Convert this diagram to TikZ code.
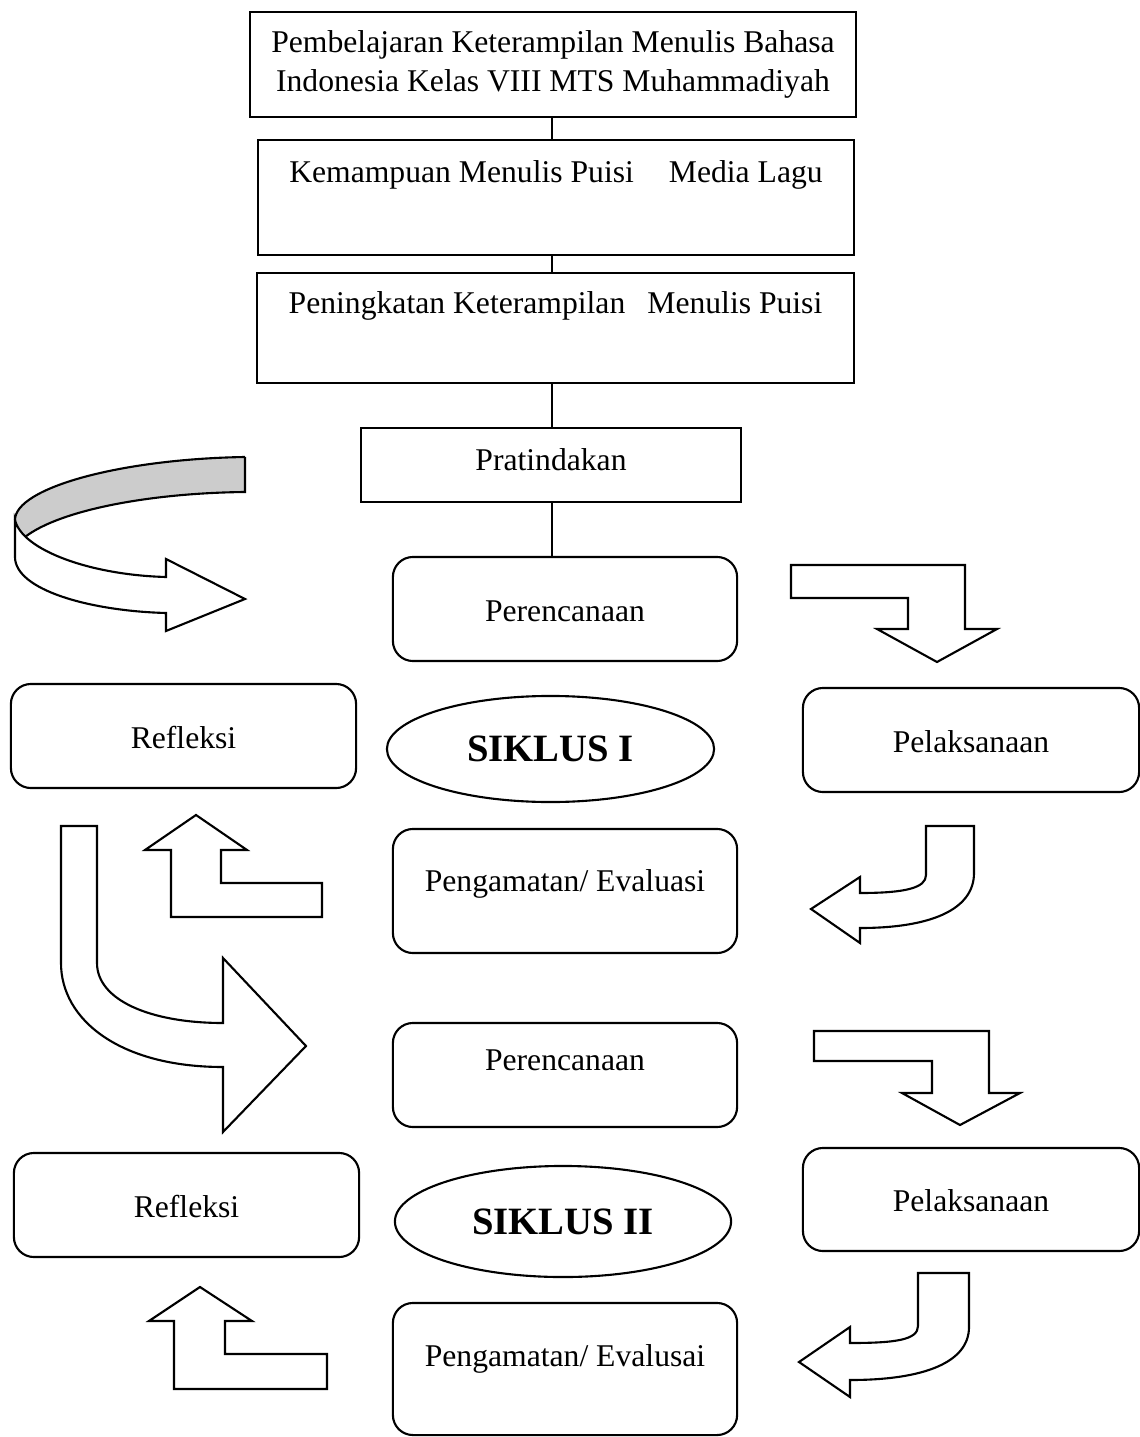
\documentclass[tikz,border=0pt]{standalone}
\usepackage{fontspec}
\setmainfont{Liberation Serif}
\usetikzlibrary{shapes.geometric}

\tikzset{
  plainbox/.style={draw, line width=0.6pt, inner sep=0pt, align=center,
    font=\fontsize{9}{11.1}\selectfont},
  onebox/.style={plainbox, text height=7pt},
  roundbox/.style={onebox, rounded corners=0.2cm},
  siklus/.style={draw, ellipse, line width=0.6pt, inner sep=0pt,
    font=\fontsize{11}{13}\selectfont\bfseries},
  blockarrow/.style={draw, fill=white, line width=0.6pt, line join=miter},
}

\begin{document}
\begin{tikzpicture}[x=0.01cm, y=-0.01cm]
    \useasboundingbox (0,0) rectangle (1139,1437);
    \node[plainbox, minimum width=6.06cm, minimum height=1.05cm] at (553,64.5) (judul) {Pembelajaran Keterampilan Menulis Bahasa\\Indonesia Kelas VIII MTS Muhammadiyah};
    \node[onebox, minimum width=5.96cm, minimum height=1.15cm, text depth=15.6pt] at (556,197.5) (kemampuan) {Kemampuan Menulis Puisi\hspace{0.35cm}Media Lagu};
    \node[onebox, minimum width=5.97cm, minimum height=1.10cm, text depth=15.2pt] at (555.5,328) (peningkatan) {Peningkatan Keterampilan\hspace{0.22cm}Menulis Puisi};
    \node[onebox, minimum width=3.80cm, minimum height=0.74cm, text depth=3.8pt] at (551,465) (pratindakan) {Pratindakan};
    % siklus I
    \node[roundbox, minimum width=3.44cm, minimum height=1.04cm] at (565,609) (rencana1) {Perencanaan};
    \node[roundbox, minimum width=3.45cm, minimum height=1.04cm] at (183.5,736) (refleksi1) {Refleksi};
    \node[siklus, minimum width=3.27cm, minimum height=1.06cm] at (550.5,749) (siklus1) {SIKLUS I};
    \node[roundbox, minimum width=3.36cm, minimum height=1.04cm] at (971,740) (laksana1) {Pelaksanaan};
    \node[roundbox, minimum width=3.44cm, minimum height=1.24cm, text depth=6.7pt] at (565,891) (amat1) {Pengamatan/ Evaluasi};
    % siklus II
    \node[roundbox, minimum width=3.44cm, minimum height=1.04cm, text depth=9.6pt] at (565,1075) (rencana2) {Perencanaan};
    \node[roundbox, minimum width=3.45cm, minimum height=1.04cm] at (186.5,1205) (refleksi2) {Refleksi};
    \node[siklus, minimum width=3.36cm, minimum height=1.11cm] at (563,1221.5) (siklus2) {SIKLUS II};
    \node[roundbox, minimum width=3.36cm, minimum height=1.03cm] at (971,1199.5) (laksana2) {Pelaksanaan};
    \node[roundbox, minimum width=3.44cm, minimum height=1.32cm, text depth=8.2pt] at (565,1369) (amat2) {Pengamatan/ Evalusai};
    \draw[line width=0.6pt] (judul.south -| 552,0) -- (552,0 |- kemampuan.north);
    \draw[line width=0.6pt] (kemampuan.south -| 552,0) -- (552,0 |- peningkatan.north);
    \draw[line width=0.6pt] (peningkatan.south -| 552,0) -- (552,0 |- pratindakan.north);
    \draw[line width=0.6pt] (pratindakan.south -| 552,0) -- (552,0 |- rencana1.north);
    % block arrows
    \fill[gray!40] (245,457) .. controls (120,459) and (15,488) .. (15,520)
      .. controls (17,527) and (20,532) .. (25,537)
      .. controls (60,510) and (150,493) .. (245,492) -- cycle;
    \draw[line width=0.6pt] (245,457) .. controls (120,459) and (15,488) .. (15,520);
    \draw[line width=0.6pt] (25,537) .. controls (60,510) and (150,493) .. (245,492) -- (245,457);
    \draw[blockarrow] (15,520) .. controls (22,550) and (90,575) .. (166,577) -- (166,559) -- (245,599) -- (166,631) -- (166,613)
      .. controls (90,611) and (15,590) .. (15,557) -- cycle;
    \draw[blockarrow] (791,565) -- (965,565) -- (965,629) -- (997,629) -- (937,662) -- (877,629) -- (908,629) -- (908,598) -- (791,598) -- cycle;
    \draw[blockarrow] (926,826) -- (974,826) -- (974,873) .. controls (974,910) and (930,928) .. (860,928) -- (860,943) -- (811,909) -- (860,877) -- (860,893)
      .. controls (905,893) and (926,888) .. (926,875) -- cycle;
    \draw[blockarrow] (196,815) -- (247,850) -- (221,850) -- (221,883) -- (322,883) -- (322,917) -- (171,917) -- (171,850) -- (145,850) -- cycle;
    \draw[blockarrow] (61,826) -- (97,826) -- (97,963) .. controls (97,1000) and (150,1023) .. (223,1023) -- (223,958) -- (306,1046) -- (223,1132) -- (223,1067)
      .. controls (120,1067) and (61,1020) .. (61,963) -- cycle;
    \draw[blockarrow] (814,1031) -- (989,1031) -- (989,1093) -- (1020,1093) -- (960,1125) -- (902,1093) -- (932,1093) -- (932,1061) -- (814,1061) -- cycle;
    \draw[blockarrow] (918,1273) -- (969,1273) -- (969,1327) .. controls (969,1362) and (925,1380) .. (850,1380) -- (850,1397) -- (799,1362) -- (850,1327) -- (850,1343)
      .. controls (895,1343) and (918,1340) .. (918,1326) -- cycle;
    \draw[blockarrow] (200,1287) -- (252,1321) -- (225,1321) -- (225,1354) -- (327,1354) -- (327,1389) -- (174,1389) -- (174,1321) -- (149,1321) -- cycle;
  \end{tikzpicture}
\end{document}
